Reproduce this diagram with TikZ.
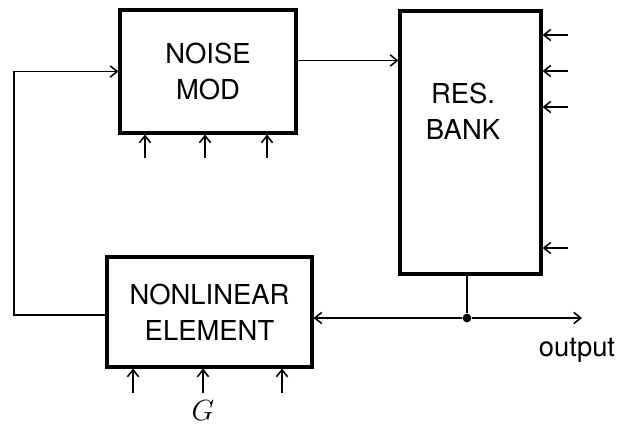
\documentclass[tikz,border=0pt]{standalone}
\usepackage{fontspec}
\setmainfont{TeX Gyre Heros}
\usetikzlibrary{arrows.meta, positioning, calc}
\tikzset{
    synth/.style={>={Straight Barb[length=5pt,width=8pt]}, x=0.025cm, y=-0.025cm},
    block/.style={draw, line width=2.2pt, inner sep=0pt},
    lbl/.style={align=center, font=\fontsize{19.5}{25.6}\selectfont},
    wire/.style={line width=1.1pt},
    branch/.style={fill, circle, inner sep=2.2pt},
}

\begin{document}
\begin{tikzpicture}[synth]
    \useasboundingbox (0,0) rectangle (618,426);

    % the three blocks
    \node[block, minimum width=4.4cm, minimum height=3.075cm] (noise) at (208,71.5) {};
    \node[lbl] (noiselbl) at (noise) {NOISE\\MOD};
    \node[block, minimum width=3.525cm, minimum height=6.575cm] (bank) at (470.5,142.5) {};
    \node[lbl] (banklbl) at (463,111) {RES.\\BANK};
    \node[block, minimum width=5.125cm, minimum height=2.75cm] (nonlin) at (209.5,312) {};
    \node[lbl] (nonlinlbl) at (nonlin) {NONLINEAR\\ELEMENT};

    % loop
    \draw[wire, ->] (noise.7) -- (noise.7 -| bank.west);
    \node[branch] (tap) at (467,318) {};
    \draw[wire] (tap |- bank.south) -- (tap);
    \draw[wire, ->] (tap) -- (tap -| nonlin.east);
    \coordinate (fb) at (14,315);
    \draw[wire, ->] (nonlin.west |- fb) -- (fb) |- (noise.west);

    % output
    \coordinate (out) at (582,318);
    \draw[wire, ->] (tap) -- (out);
    \node[lbl] (outlbl) at (577,350) {output};

    % control inputs
    \foreach \x [count=\i] in {145,205,267} {
        \coordinate (nin\i) at (\x,158);
        \draw[wire, ->] (nin\i) -- (nin\i |- noise.south);
    }
    \foreach \y [count=\i] in {35,71,107,248} {
        \coordinate (bin\i) at (568,\y);
        \draw[wire, ->] (bin\i) -- (bin\i -| bank.east);
    }
    \foreach \x [count=\i] in {133,203,282} {
        \coordinate (lin\i) at (\x,393);
        \draw[wire, ->] (lin\i) -- (lin\i |- nonlin.south);
    }
    \node[inner sep=0pt, font=\fontsize{20}{24}\selectfont] (gain) at (203,411) {$G$};

\end{tikzpicture}
\end{document}
